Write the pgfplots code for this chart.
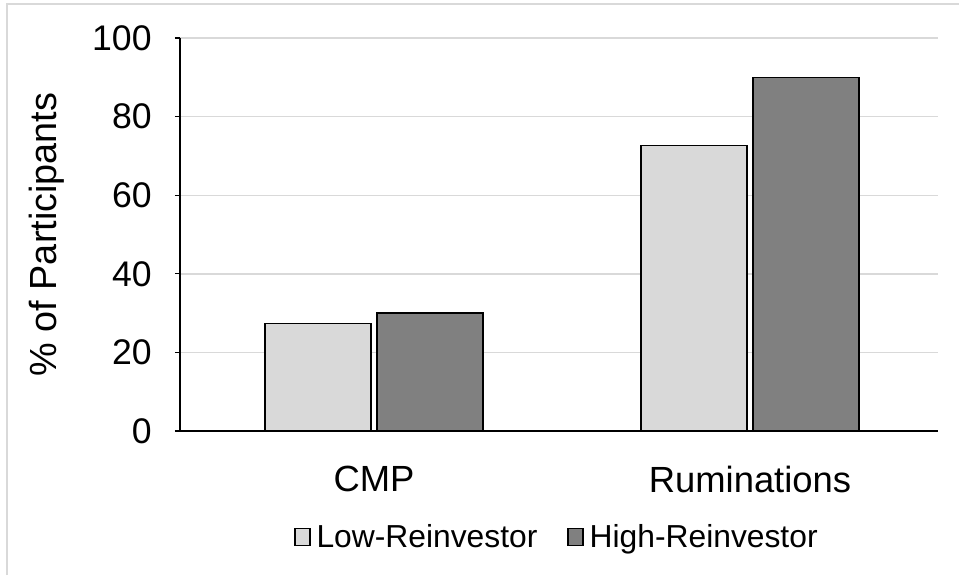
\documentclass[border=0pt]{standalone}
\usepackage{fontspec}
\setmainfont{Liberation Sans}
\usepackage{pgfplots}
\pgfplotsset{compat=1.18}

\definecolor{lowfill}{HTML}{D9D9D9}
\definecolor{highfill}{HTML}{808080}
\definecolor{gridgray}{HTML}{D9D9D9}

\begin{document}
\begin{tikzpicture}
  % page frame, 1px = 0.5pt
  \path[use as bounding box] (0,0) rectangle (479.5pt,287.5pt);
  \draw[gridgray, line width=1pt] (3.25pt,0) -- (3.25pt,285.5pt) -- (479.5pt,285.5pt);
  \begin{axis}[
        at={(90pt,72pt)}, anchor=south west,
        scale only axis,
        width=379pt, height=196.5pt,
        ybar, bar width=53pt,
        ymin=0, ymax=100,
        ytick={0,20,...,100},
        xmin=-0.516, xmax=1.5,
        xtick={0,1},
        xticklabels={CMP, Ruminations},
        axis x line*=bottom,
        axis y line*=left,
        axis line style={black, line width=0.6pt, -},
        ymajorgrids,
        major grid style={gridgray, line width=0.7pt},
        tick align=outside,
        ytick style={black, line width=0.6pt},
        major tick length=2.5pt,
        xtick style={draw=none},
        /pgf/number format/assume math mode=true,
        tick label style={font=\fontsize{17.8}{20}\selectfont},
        xticklabel style={font=\fontsize{18.2}{20}\selectfont},
        yticklabel style={anchor=east, inner sep=0pt, xshift=-11.5pt},
        xticklabel style={anchor=center, inner sep=0pt, yshift=-21.5pt},
        ylabel={\% of Participants},
        ylabel style={font=\fontsize{18.9}{21}\selectfont,
                      at={(axis description cs:-0.1755,0.5)}, anchor=center},
        legend style={
            at={(axis description cs:0.5,-0.27)}, anchor=center,
            draw=none, fill=none,
            font=\fontsize{15.9}{18}\selectfont,
            legend columns=-1,
            /tikz/every even column/.append style={column sep=12pt},
            inner sep=0pt,
            nodes={inner ysep=1.5pt, inner xsep=3pt},
        },
        legend image code/.code={
            \draw[#1, line width=0.6pt] (0pt,-4.25pt) rectangle (7.5pt,4.25pt);
        },
    ]
\addplot [draw=black, line width=0.7pt, fill=lowfill, bar shift=-28pt]
	coordinates {(0,27.3) (1,72.7)};
\addplot [draw=black, line width=0.7pt, fill=highfill, bar shift=28pt]
	coordinates {(0,30.0) (1,90.0)};
\legend{Low-Reinvestor, High-Reinvestor}
\end{axis}
\end{tikzpicture}
\end{document}
